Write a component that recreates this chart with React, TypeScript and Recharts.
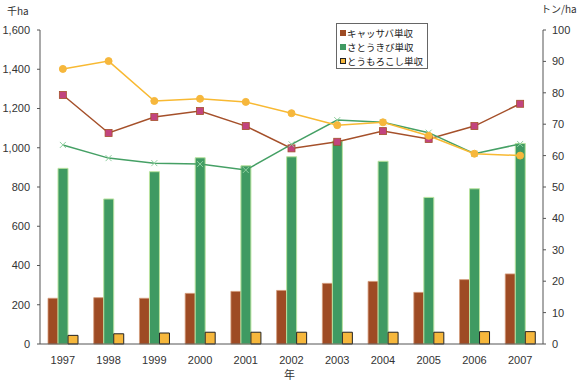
import React from "react";
import { ComposedChart, Bar, Line, XAxis, YAxis } from "recharts";

const years = ["1997", "1998", "1999", "2000", "2001", "2002", "2003", "2004", "2005", "2006", "2007"];
const cassavaArea = [233, 236, 233, 258, 268, 273, 309, 319, 263, 328, 357];
const sugarcaneArea = [895, 739, 878, 949, 908, 954, 1034, 931, 747, 791, 1022];
const maizeArea = [44, 52, 56, 60, 60, 60, 60, 60, 60, 63, 63];
const cassavaYield = [79.3, 67.2, 72.3, 74.2, 69.4, 62.3, 64.4, 67.8, 65.3, 69.4, 76.5];
const sugarcaneYield = [63.4, 59.2, 57.6, 57.3, 55.4, 63.6, 71.3, 70.6, 67.3, 60.6, 63.7];
const maizeYield = [87.6, 90.1, 77.4, 78.1, 77.1, 73.5, 69.7, 70.6, 66.3, 60.6, 60.0];
const leftTicks = [0, 200, 400, 600, 800, 1000, 1200, 1400, 1600];
const rightTicks = [0, 10, 20, 30, 40, 50, 60, 70, 80, 90, 100];
const legendNames = ["キャッサバ単収", "さとうきび単収", "とうもろこし単収"];

const data = years.map((y, i) => ({
  year: y,
  cassavaArea: cassavaArea[i],
  sugarcaneArea: sugarcaneArea[i],
  maizeArea: maizeArea[i],
  cassavaYield: cassavaYield[i],
  sugarcaneYield: sugarcaneYield[i],
  maizeYield: maizeYield[i],
}));

const BROWN = "#9e4b24";
const GREEN = "#3f9a62";
const YELLOW = "#f6b73c";

const tickFont = { fontFamily: "Liberation Sans, Arial, sans-serif", fontSize: 11, fill: "#333" };

const SquareDot = (props: any) => {
  const { cx, cy } = props;
  if (cx == null || cy == null) return null;
  return <rect x={cx - 3.5} y={cy - 3.5} width={7} height={7} fill="#c2447f" stroke="#a5502a" strokeWidth={0.8} />;
};
const XDot = (props: any) => {
  const { cx, cy } = props;
  if (cx == null || cy == null) return null;
  return (
    <g stroke="#8fcf9f" strokeWidth={1}>
      <line x1={cx - 3} y1={cy - 3} x2={cx + 3} y2={cy + 3} />
      <line x1={cx - 3} y1={cy + 3} x2={cx + 3} y2={cy - 3} />
    </g>
  );
};
const CircleDot = (props: any) => {
  const { cx, cy } = props;
  if (cx == null || cy == null) return null;
  return <circle cx={cx} cy={cy} r={3.5} fill={YELLOW} stroke={YELLOW} />;
};

const legendColors = [
  { fill: BROWN, stroke: BROWN },
  { fill: GREEN, stroke: GREEN },
  { fill: YELLOW, stroke: "#222" },
];

const LegendBox = () => (
  <div
    style={{
      position: "absolute",
      left: 336,
      top: 23,
      border: "1px solid #666",
      background: "#fff",
      width: 92,
      height: 46,
      boxSizing: "border-box",
      padding: "2px 0 0 3px",
      fontFamily: "Noto Sans CJK JP, sans-serif",
      fontSize: 9.5,
      color: "#222",
      lineHeight: "14px",
    }}
  >
    {legendNames.map((n, i) => (
      <div key={n} style={{ display: "flex", alignItems: "center", height: 14 }}>
        <span
          style={{
            display: "inline-block",
            width: 4,
            height: 4,
            background: legendColors[i].fill,
            border: `1px solid ${legendColors[i].stroke}`,
            marginRight: 1,
          }}
        />
        {n}
      </div>
    ))}
  </div>
);

export default function App() {
  return (
    <div style={{ position: "absolute", left: 0, top: 0, width: 580, height: 382, background: "#fff" }}>
      <ComposedChart
        width={580}
        height={382}
        data={data}
        margin={{ top: 30, right: 0, bottom: 0, left: 0 }}
        barGap={0}
      >
        <XAxis
          dataKey="year"
          height={38}
          tick={tickFont}
          tickLine={false}
          tickSize={0}
          tickMargin={12}
          axisLine={{ stroke: "#555" }}
        />
        <YAxis
          yAxisId="left"
          width={40}
          domain={[0, 1600]}
          ticks={leftTicks}
          tick={tickFont}
          tickSize={3}
          tickMargin={7}
          tickFormatter={(v: number) => v.toLocaleString("en-US")}
          axisLine={{ stroke: "#555" }}
          tickLine={{ stroke: "#555" }}
          interval={0}
        />
        <YAxis
          yAxisId="right"
          orientation="right"
          width={37}
          domain={[0, 100]}
          ticks={rightTicks}
          tick={tickFont}
          tickSize={3}
          tickMargin={6}
          axisLine={{ stroke: "#555" }}
          tickLine={{ stroke: "#555" }}
          interval={0}
        />
        <Bar yAxisId="left" dataKey="cassavaArea" name={legendNames[0]} fill={BROWN} stroke="#d49a7a" strokeWidth={0.8} barSize={10} isAnimationActive={false} />
        <Bar yAxisId="left" dataKey="sugarcaneArea" name={legendNames[1]} fill={GREEN} stroke="#b9e39f" strokeWidth={1} barSize={10} isAnimationActive={false} />
        <Bar yAxisId="left" dataKey="maizeArea" name={legendNames[2]} fill={YELLOW} stroke="#222" strokeWidth={1} barSize={10} isAnimationActive={false} />
        <Line yAxisId="right" dataKey="cassavaYield" stroke="#a5502a" strokeWidth={1.5} dot={<SquareDot />} activeDot={false} isAnimationActive={false} />
        <Line yAxisId="right" dataKey="sugarcaneYield" stroke="#45a065" strokeWidth={1.5} dot={<XDot />} activeDot={false} isAnimationActive={false} />
        <Line yAxisId="right" dataKey="maizeYield" stroke="#f8b932" strokeWidth={1.5} dot={<CircleDot />} activeDot={false} isAnimationActive={false} />
      </ComposedChart>
      <LegendBox />
      <div style={{ position: "absolute", left: 7, top: 3, fontFamily: "Noto Sans CJK JP, sans-serif", fontSize: 10, color: "#333" }}>千ha</div>
      <div style={{ position: "absolute", left: 541, top: 1, fontFamily: "Noto Sans CJK JP, sans-serif", fontSize: 10, color: "#333" }}>トン/ha</div>
      <div style={{ position: "absolute", left: 284, top: 366, fontFamily: "Noto Sans CJK JP, sans-serif", fontSize: 11, color: "#333" }}>年</div>
    </div>
  );
}
